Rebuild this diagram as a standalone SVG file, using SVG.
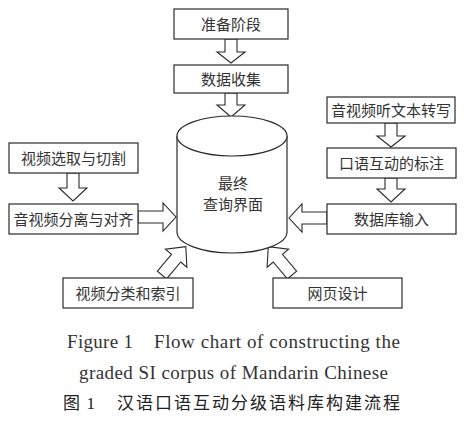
<svg xmlns="http://www.w3.org/2000/svg" width="473" height="421" viewBox="0 0 473 421">
<style>
.box{fill:#fff;stroke:#2a2a2a;stroke-width:1.2}
.arr{fill:#fff;stroke:#2a2a2a;stroke-width:1.1;stroke-linejoin:miter}
.cyl{fill:#fff;stroke:#2a2a2a;stroke-width:1.2}
.lbl{font-family:"Noto Sans CJK SC",sans-serif;font-size:15px;fill:#333;text-anchor:middle}
.cap{font-family:"Liberation Serif","Noto Sans CJK SC",serif;font-size:19px;fill:#333}
.capc{font-family:"Liberation Serif","Noto Sans CJK SC",serif;font-size:17px;fill:#222}
</style>
<rect width="473" height="421" fill="#fff"/>
<g id="connectors">
<path class="arr" d="M225,39 V52 H217 L231,63 L245,52 H237 V39 Z"/>
<path class="arr" d="M225,93 V105 H217 L231,117 L245,105 H237 V93 Z"/>
<path class="arr" d="M67,173 V188 H59 L73,201 L87,188 H79 V173 Z"/>
<path class="arr" d="M385,123 V136 H377 L391,147 L405,136 H397 V123 Z"/>
<path class="arr" d="M385,178 V189 H377 L391,202 L405,189 H397 V178 Z"/>
<path class="arr" d="M138,211 H163 V203 L176,217 L163,231 V223 H138 Z"/>
<path class="arr" d="M327,212 H302 V204 L289,218 L302,232 V224 H327 Z"/>
<path class="arr" transform="translate(162,275) rotate(-50)" d="M0,-6 H22 V-14 L37,0 L22,14 V6 H0 Z"/>
<path class="arr" transform="translate(292,275) rotate(-130)" d="M0,-6 H22 V-14 L37,0 L22,14 V6 H0 Z"/>
</g>
<g id="n1"><rect class="box" x="174" y="9" width="114" height="30"/><text class="lbl" x="231" y="29.5">准备阶段</text></g>
<g id="n2"><rect class="box" x="174" y="65" width="114" height="28"/><text class="lbl" x="231" y="84.5">数据收集</text></g>
<g id="n3">
<path class="cyl" d="M177,136 V232 A55,21 0 0 0 287,232 V136"/>
<ellipse class="cyl" cx="232" cy="136" rx="55" ry="20"/>
<text class="lbl" x="233" y="189">最终</text>
<text class="lbl" x="233" y="210">查询界面</text>
</g>
<g id="n4"><rect class="box" x="9" y="143" width="129" height="30"/><text class="lbl" x="73.5" y="163.5">视频选取与切割</text></g>
<g id="n5"><rect class="box" x="9" y="204" width="129" height="30"/><text class="lbl" x="73.5" y="224.5">音视频分离与对齐</text></g>
<g id="n6"><rect class="box" x="327" y="97" width="128" height="26"/><text class="lbl" x="391" y="115.5">音视频听文本转写</text></g>
<g id="n7"><rect class="box" x="327" y="148" width="129" height="30"/><text class="lbl" x="391.5" y="168.5">口语互动的标注</text></g>
<g id="n8"><rect class="box" x="327" y="204" width="129" height="30"/><text class="lbl" x="391.5" y="225">数据库输入</text></g>
<g id="n9"><rect class="box" x="63" y="278" width="130" height="30"/><text class="lbl" x="128" y="299">视频分类和索引</text></g>
<g id="n10"><rect class="box" x="273" y="278" width="129" height="30"/><text class="lbl" x="337.5" y="299">网页设计</text></g>
<g id="caption">
<text class="cap" x="67" y="348" textLength="66" lengthAdjust="spacing">Figure 1</text>
<text class="cap" x="154" y="348" textLength="246" lengthAdjust="spacing">Flow chart of constructing the</text>
<text class="cap" x="79" y="379" textLength="309" lengthAdjust="spacing">graded SI corpus of Mandarin Chinese</text>
<text class="capc" x="63" y="409" textLength="32" lengthAdjust="spacing">图 1</text>
<text class="capc" x="117" y="409" textLength="283" lengthAdjust="spacing">汉语口语互动分级语料库构建流程</text>
</g>
</svg>
